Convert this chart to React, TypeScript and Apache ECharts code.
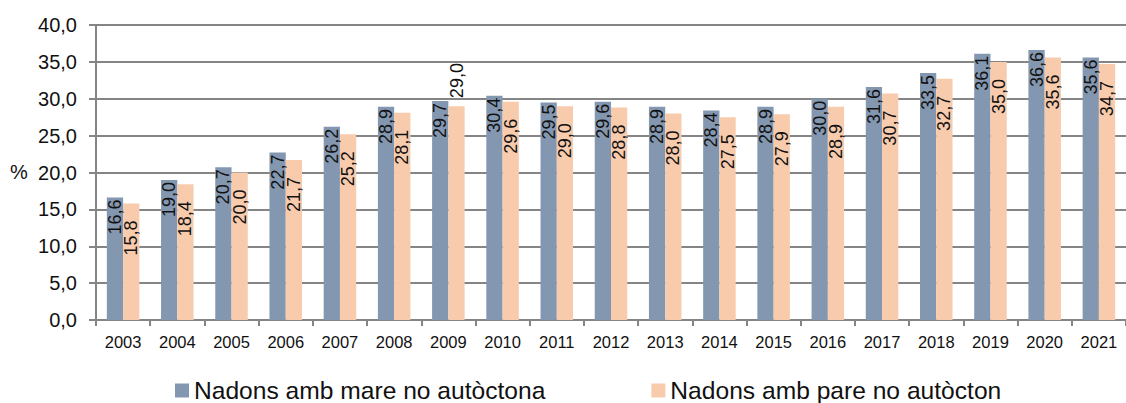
import React, { useEffect, useRef } from "react";
import * as echarts from "echarts";

const years = ["2003","2004","2005","2006","2007","2008","2009","2010","2011","2012","2013","2014","2015","2016","2017","2018","2019","2020","2021"];
const mare = [16.6, 19.0, 20.7, 22.7, 26.2, 28.9, 29.7, 30.4, 29.5, 29.6, 28.9, 28.4, 28.9, 30.0, 31.6, 33.5, 36.1, 36.6, 35.6];
const pare = [15.8, 18.4, 20.0, 21.7, 25.2, 28.1, 29.0, 29.6, 29.0, 28.8, 28.0, 27.5, 27.9, 28.9, 30.7, 32.7, 35.0, 35.6, 34.7];
const seriesNames = ["Nadons amb mare no autòctona", "Nadons amb pare no autòcton"];
const yTicks = { min: 0, max: 40, interval: 5 };

const FONT = "'Liberation Sans', Arial, sans-serif";
const fmt = (v: number) => v.toFixed(1).replace(".", ",");

export default function App() {
  const ref = useRef<HTMLDivElement>(null);
  useEffect(() => {
    if (!ref.current) return;
    const chart = echarts.init(ref.current, null, { renderer: "svg" });
    const baseLabel = {
      show: true,
      rotate: 90,
      align: "right",
      verticalAlign: "middle",
      position: "insideTop",
      fontSize: 18,
      fontFamily: FONT,
      color: "#111",
      formatter: (p: any) => fmt(p.value),
    };
    const pareData = pare.map((v, i) =>
      years[i] === "2009"
        ? {
            value: v,
            label: { position: "top", distance: 8, align: "left", verticalAlign: "middle", rotate: 90 },
          }
        : v
    );
    chart.setOption({
      animation: false,
      textStyle: { fontFamily: FONT },
      grid: { left: 96, top: 25, bottom: 83, right: -10, containLabel: false },
      legend: {
        left: 175,
        top: 378,
        padding: 0,
        itemWidth: 14,
        itemHeight: 14,
        itemGap: 106,
        icon: "rect",
        textStyle: { fontSize: 24.6, fontFamily: FONT, color: "#111" },
        data: seriesNames,
      },
      graphic: [
        {
          type: "text",
          left: 10,
          top: 162,
          style: { text: "%", fontSize: 20, fontFamily: FONT, fill: "#111" },
        },
      ],
      xAxis: {
        type: "category",
        data: years,
        axisLine: { lineStyle: { color: "#858585", width: 2 } },
        axisTick: { show: true, length: 6, lineStyle: { color: "#858585", width: 2 } },
        axisLabel: { fontSize: 16.5, fontFamily: FONT, color: "#111", margin: 13, interval: 0 },
      },
      yAxis: {
        type: "value",
        min: yTicks.min,
        max: yTicks.max,
        interval: yTicks.interval,
        axisLine: { show: true, lineStyle: { color: "#858585", width: 2 } },
        axisTick: { show: true, length: 7, lineStyle: { color: "#858585", width: 2 } },
        splitLine: { show: true, lineStyle: { color: "#858585", width: 2 } },
        axisLabel: {
          fontSize: 20,
          fontFamily: FONT,
          color: "#111",
          margin: 19,
          formatter: (v: number) => fmt(v),
        },
      },
      series: [
        {
          name: seriesNames[0],
          type: "bar",
          data: mare,
          barWidth: "30%",
          barGap: "0%",
          itemStyle: { color: "#8497b0" },
          label: { ...baseLabel, distance: 2 },
        },
        {
          name: seriesNames[1],
          type: "bar",
          data: pareData,
          barWidth: "30%",
          barGap: "0%",
          itemStyle: { color: "#f8cbad" },
          label: { ...baseLabel, distance: 17 },
        },
      ],
    });
    return () => chart.dispose();
  }, []);
  return (
    <div
      ref={ref}
      style={{ position: "fixed", left: 0, top: 0, width: 1126, height: 403, background: "#fff" }}
    />
  );
}
